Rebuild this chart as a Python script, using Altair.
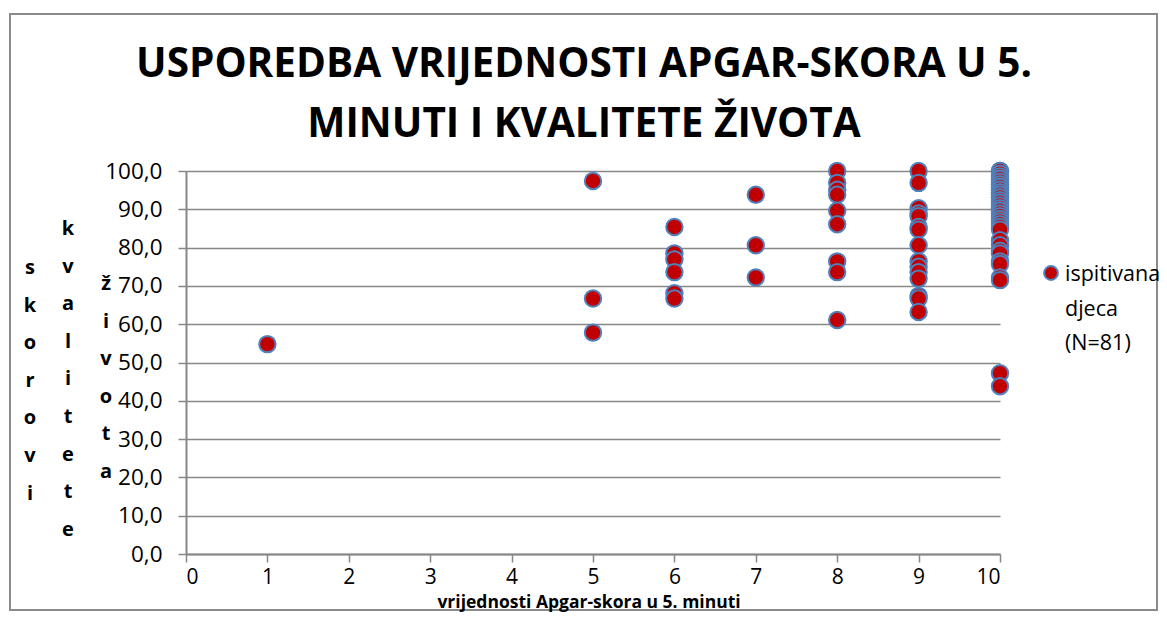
import altair as alt
import pandas as pd

# Quality-of-life scores per Apgar score at 5 minutes
apgar_1 = [54.8]
apgar_5 = [97.4, 66.7, 57.8]
apgar_6 = [85.4, 78.5, 76.9, 73.6, 68.1, 66.7]
apgar_7 = [93.8, 80.6, 72.2]
apgar_8 = [100.0, 96.9, 95.1, 93.8, 89.6, 86.1, 76.4, 73.6, 61.1]
apgar_9 = [100.0, 96.9, 90.3, 88.9, 88.2, 85.4, 84.7, 80.6, 76.4, 75.0,
           73.6, 71.9, 67.4, 66.7, 63.2]
apgar_10 = [100.0, 100.0, 100.0, 99.3, 98.6, 97.9, 97.9, 97.2, 96.5, 96.5,
            95.8, 95.8, 95.1, 95.1, 94.4, 94.4, 93.8, 93.8, 93.1, 93.1,
            92.4, 91.7, 91.7, 91.0, 90.3, 89.6, 89.6, 88.9, 88.2, 87.5,
            86.8, 86.1, 85.4, 84.7, 81.9, 80.6, 79.2, 78.5, 76.4, 75.7,
            72.2, 71.5, 47.2, 43.8]

groups = {1: apgar_1, 5: apgar_5, 6: apgar_6, 7: apgar_7,
          8: apgar_8, 9: apgar_9, 10: apgar_10}

title_lines = ["USPOREDBA VRIJEDNOSTI APGAR-SKORA U 5.", "MINUTI I KVALITETE ŽIVOTA"]
x_title = "vrijednosti Apgar-skora u 5. minuti"
y_title_cols = ["skorovi", "kvalitete", "života"]
legend_lines = ["ispitivana", "djeca", "(N=81)"]

rows = []
for k, vals in groups.items():
    for v in vals:
        rows.append({"apgar": k, "score": v})
df = pd.DataFrame(rows)

FONT = "Open Sans"
W, H = 814, 383
PAD = {"left": 178, "top": 163, "right": 159, "bottom": 58}

RED = "#C00000"
BLUE = "#4F81BD"
GRID = "#878787"

points = alt.Chart(df).mark_point(
    filled=True, shape="circle", size=270, fill=RED, stroke=BLUE,
    strokeWidth=2, opacity=1
).encode(
    x=alt.X("apgar:Q", scale=alt.Scale(domain=[0, 10], nice=False),
            axis=alt.Axis(values=list(range(0, 11)), title=None,
                          format="d", grid=False, labelFontSize=21,
                          labelPadding=4, tickSize=8, tickColor=GRID,
                          tickWidth=1.5, domainColor=GRID, domainWidth=2,
                          labelColor="#000")),
    y=alt.Y("score:Q", scale=alt.Scale(domain=[0, 100], nice=False),
            axis=alt.Axis(values=list(range(0, 101, 10)), title=None,
                          labelExpr="replace(format(datum.value, '.1f'), '.', ',')",
                          grid=True, gridColor=GRID, gridWidth=1.6,
                          labelFontSize=22.5, labelPadding=16, tickSize=8,
                          tickColor=GRID, tickWidth=1.5, domainColor=GRID,
                          domainWidth=2, labelColor="#000")),
)

title_df = pd.DataFrame({"t": [title_lines]})
title_mark = alt.Chart(title_df).mark_text(
    font=FONT, fontSize=40.5, fontWeight="bold", align="center",
    baseline="alphabetic", lineHeight=60, color="#000"
).encode(x=alt.value(398), y=alt.value(-94), text="t:N")

xtitle_mark = alt.Chart(pd.DataFrame({"t": [x_title]})).mark_text(
    font=FONT, fontSize=17.5, fontWeight="bold", align="center",
    baseline="alphabetic", color="#000"
).encode(x=alt.value(403), y=alt.value(H + 54), text="t:N")

ycols = []
col_x = [-156, -118, -80]
col_y = [103, 64, 119]
for word, cx, cy in zip(y_title_cols, col_x, col_y):
    d = pd.DataFrame({"t": [list(word)]})
    ycols.append(alt.Chart(d).mark_text(
        font=FONT, fontSize=20, fontWeight="bold", align="center",
        baseline="alphabetic", lineHeight=37.6, color="#000"
    ).encode(x=alt.value(cx), y=alt.value(cy), text="t:N"))

legend_pt = alt.Chart(pd.DataFrame({"k": ["ispitivana djeca (N=81)"]})).mark_point(
    filled=True, shape="circle", size=190, fill=RED, stroke=BLUE,
    strokeWidth=2, opacity=1
).encode(x=alt.value(865), y=alt.value(102))

legend_txt = alt.Chart(pd.DataFrame({"t": [legend_lines]})).mark_text(
    font=FONT, fontSize=21.5, align="left", baseline="alphabetic",
    lineHeight=34.5, color="#000"
).encode(x=alt.value(879), y=alt.value(110), text="t:N")

border = alt.Chart(pd.DataFrame({"a": [0]})).mark_rect(
    filled=False, stroke="#8a8a8a", strokeWidth=2
).encode(x=alt.value(-176), x2=alt.value(W + PAD["right"] - 2),
         y=alt.value(-157), y2=alt.value(H + PAD["bottom"] - 2))

chart = alt.layer(border, points, title_mark, xtitle_mark, *ycols,
                  legend_pt, legend_txt).properties(
    width=W, height=H, padding=PAD, autosize=alt.AutoSizeParams(type="none")
).configure(font=FONT).configure_view(stroke=None)

chart.save("out.html", embed_options={"renderer": "svg", "actions": False})
